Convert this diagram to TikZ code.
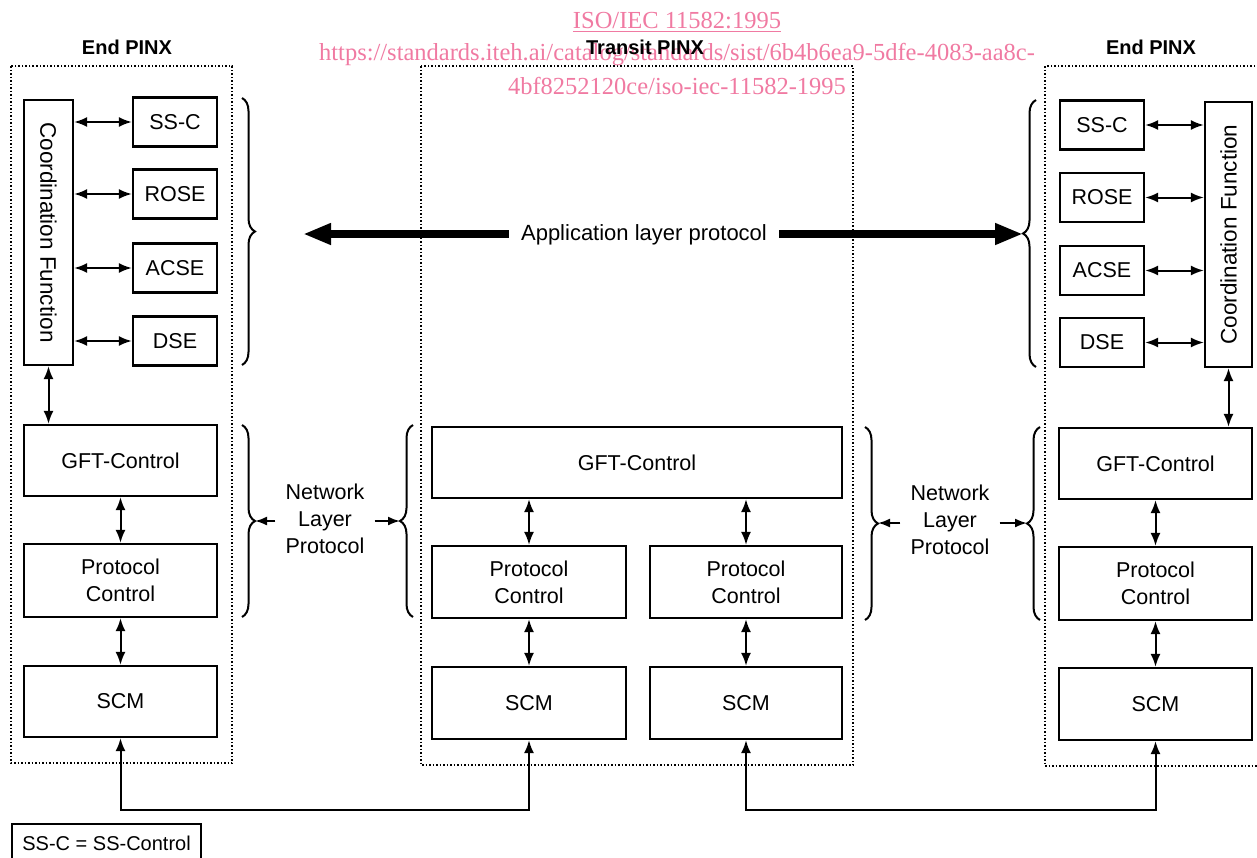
\documentclass[tikz,border=0pt]{standalone}
\usepackage{fontspec}
\setmainfont{Liberation Sans}
\newfontfamily\wmfont{Liberation Serif}
\usetikzlibrary{arrows.meta,decorations.pathreplacing,calc}
\definecolor{wmpink}{RGB}{240,122,162}

\begin{document}
\begin{tikzpicture}[x=1pt,y=-1pt,
  lbl/.style={font=\fontsize{21.5}{27}\selectfont,align=center,inner sep=0pt},
  box/.style={draw,line width=2.2pt,inner sep=0pt,font=\fontsize{21.5}{27}\selectfont,align=center},
  title/.style={font=\fontsize{20}{24}\selectfont\bfseries,inner sep=0pt},
  pinx/.style={draw,dotted,line width=1.5pt},
  dbl/.style={line width=2pt,{Latex[length=13pt,width=10pt]}-{Latex[length=13pt,width=10pt]}},
  tip/.style={line width=2pt,-{Latex[length=12pt,width=9pt]},shorten <=10pt},
  fat/.style={line width=8pt,-{Triangle[length=28pt,width=20pt]},shorten <=12pt},
  curly/.style={draw,line width=2pt,decorate,decoration={brace,amplitude=13pt,aspect=0.5}},
  wm/.style={font=\wmfont\fontsize{24.5}{28}\selectfont,text=wmpink,inner sep=0pt}
]
\useasboundingbox (0,0) rectangle (1257,857);
\clip (0,0) rectangle (1257,857);

% PINX enclosures
\draw[pinx] (11,66) rectangle (232,763);
\draw[pinx] (421,66) rectangle (853,765);
\draw[pinx] (1045,66) rectangle (1262,766);

% ---------- left End PINX ----------
\node[box,minimum width=49,minimum height=265] (lcf) at (48.5,232.5) {};
\node[lbl,font=\fontsize{22.5}{27}\selectfont,rotate=-90] (lcft) at (lcf.center) {Coordination Function};
\node[box,minimum width=84,minimum height=49] (lssc) at (175,122) {SS-C};
\node[box,minimum width=84,minimum height=49] (lrose) at (175,194) {ROSE};
\node[box,minimum width=84,minimum height=49] (lacse) at (175,268) {ACSE};
\node[box,minimum width=84,minimum height=49] (ldse) at (175,341) {DSE};
\node[box,minimum width=193,minimum height=71] (lgft) at (120.5,460.5) {GFT-Control};
\node[box,minimum width=193,minimum height=73] (lpc) at (120.5,580.5) {Protocol\\Control};
\node[box,minimum width=193,minimum height=71] (lscm) at (120.5,701.5) {SCM};

\foreach \b in {lssc,lrose,lacse,ldse}
  \draw[dbl] (lcf.east |- \b.west) -- (\b.west);
\draw[dbl] (lcf.south) -- (lgft.north -| lcf.south);
\draw[dbl] (lgft) -- (lpc);
\draw[dbl] (lpc) -- (lscm);

% ---------- Transit PINX ----------
\node[box,minimum width=410,minimum height=71] (tgft) at (637,462.5) {GFT-Control};
\node[box,minimum width=194,minimum height=72] (tpca) at (529,582) {Protocol\\Control};
\node[box,minimum width=192,minimum height=72] (tpcb) at (746,582) {Protocol\\Control};
\node[box,minimum width=194,minimum height=72] (tscma) at (529,703) {SCM};
\node[box,minimum width=192,minimum height=72] (tscmb) at (746,703) {SCM};

\draw[dbl] (tgft.south -| tpca.north) -- (tpca.north);
\draw[dbl] (tgft.south -| tpcb.north) -- (tpcb.north);
\draw[dbl] (tpca) -- (tscma);
\draw[dbl] (tpcb) -- (tscmb);

% ---------- right End PINX ----------
\node[box,minimum width=47,minimum height=265] (rcf) at (1228.5,234.5) {};
\node[lbl,font=\fontsize{22.5}{27}\selectfont,rotate=90] (rcft) at (rcf.center) {Coordination Function};
\node[box,minimum width=84,minimum height=49] (rssc) at (1102,125) {SS-C};
\node[box,minimum width=84,minimum height=49] (rrose) at (1102,197.5) {ROSE};
\node[box,minimum width=84,minimum height=49] (racse) at (1102,270.5) {ACSE};
\node[box,minimum width=84,minimum height=49] (rdse) at (1102,342.5) {DSE};
\node[box,minimum width=193,minimum height=71] (rgft) at (1155.5,463.5) {GFT-Control};
\node[box,minimum width=193,minimum height=73] (rpc) at (1155.5,583.5) {Protocol\\Control};
\node[box,minimum width=193,minimum height=72] (rscm) at (1155.5,704) {SCM};

\foreach \b in {rssc,rrose,racse,rdse}
  \draw[dbl] (\b.east) -- (rcf.west |- \b.east);
\draw[dbl] (rcf.south) -- (rgft.north -| rcf.south);
\draw[dbl] (rgft) -- (rpc);
\draw[dbl] (rpc) -- (rscm);

% ---------- links between the SCMs ----------
\coordinate (busy) at (0,810);
\draw[dbl] (lscm.south) -- (lscm.south |- busy) -| (tscma.south);
\draw[dbl] (tscmb.south) -- (tscmb.south |- busy) -| (rscm.south);

% ---------- application layer ----------
\draw[curly] (242,98) -- (242,365);
\draw[curly] (1036,367) -- (1036,100);
\coordinate (abl) at (303,234);
\coordinate (abr) at (1023,234);
\node[lbl,font=\fontsize{22}{26}\selectfont] (app) at (644,235) {Application layer protocol};
\draw[fat] (app.west |- abl) -- (abl);
\draw[fat] (app.east |- abr) -- (abr);

% ---------- network layer ----------
\draw[curly] (242,425) -- (242,617);
\draw[curly] (413,617) -- (413,425);
\coordinate (nla) at (255,521);
\coordinate (nlb) at (400,521);
\node[lbl] (nlp1) at (325,519) {Network\\Layer\\Protocol};
\draw[tip] (nlp1.west |- nla) -- (nla);
\draw[tip] (nlp1.east |- nlb) -- (nlb);

\draw[curly] (865,427) -- (865,620);
\draw[curly] (1040,620) -- (1040,427);
\coordinate (nlc) at (878,523);
\coordinate (nld) at (1027,523);
\node[lbl] (nlp2) at (950,520) {Network\\Layer\\Protocol};
\draw[tip] (nlp2.west |- nlc) -- (nlc);
\draw[tip] (nlp2.east |- nld) -- (nld);

% ---------- legend ----------
\node[box,anchor=north west,minimum width=189,minimum height=38,font=\fontsize{20}{24}\selectfont] (legend) at (11,823) {SS-C = SS-Control};

% ---------- reference stamp ----------
\node[wm] (wm1) at (677,22) {\underline{ISO/IEC 11582:1995}};
\node[wm] (wm2) at (677,55) {https://standards.iteh.ai/catalog/standards/sist/6b4b6ea9-5dfe-4083-aa8c-};
\node[wm] (wm3) at (677,86) {4bf8252120ce/iso-iec-11582-1995};

% ---------- titles ----------
\node[title] (tl) at (127,47) {End PINX};
\node[title] (tm) at (645,47) {Transit PINX};
\node[title] (tr) at (1151,47) {End PINX};
\end{tikzpicture}
\end{document}
